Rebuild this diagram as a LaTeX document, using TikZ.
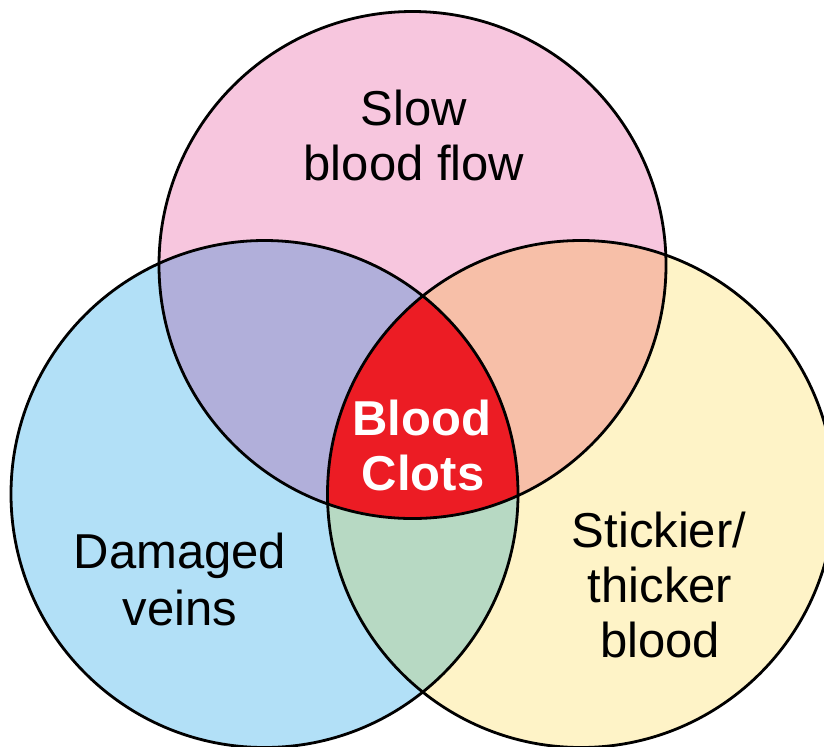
\documentclass[tikz,border=0pt]{standalone}
\usepackage{fontspec}
\setmainfont{Liberation Sans}
\definecolor{pinkC}{RGB}{247,198,222}
\definecolor{blueC}{RGB}{178,224,247}
\definecolor{yellowC}{RGB}{254,243,199}
\definecolor{purpleC}{RGB}{177,175,218}
\definecolor{salmonC}{RGB}{247,191,168}
\definecolor{greenC}{RGB}{183,217,195}
\definecolor{redC}{RGB}{236,28,36}
\begin{document}
\begin{tikzpicture}[x=0.5pt,y=-0.5pt,
  lbl/.style={anchor=base, inner sep=0pt, font=\fontsize{24.5pt}{27.5pt}\selectfont, text=black},
  hot/.style={anchor=base, inner sep=0pt, font=\fontsize{24.5pt}{27.5pt}\selectfont\bfseries, text=white},
  ring/.style={draw=black, line width=1.4pt}]
\clip (0,0) rectangle (824,746);
\def\vr{126.75pt}
\coordinate (cP) at (412.5,265);
\coordinate (cL) at (264.5,494);
\coordinate (cR) at (581,494);
% base fills
\fill[blueC] (cL) circle[radius=\vr];
\fill[yellowC] (cR) circle[radius=\vr];
\fill[pinkC] (cP) circle[radius=\vr];
% pairwise overlaps
\begin{scope}
  \clip (cP) circle[radius=\vr];
  \fill[purpleC] (cL) circle[radius=\vr];
  \fill[salmonC] (cR) circle[radius=\vr];
\end{scope}
\begin{scope}
  \clip (cL) circle[radius=\vr];
  \fill[greenC] (cR) circle[radius=\vr];
  \clip (cR) circle[radius=\vr];
  \fill[redC] (cP) circle[radius=\vr];
\end{scope}
% outlines
\draw[ring] (cP) circle[radius=\vr];
\draw[ring] (cL) circle[radius=\vr];
\draw[ring] (cR) circle[radius=\vr];
% labels
\node[lbl] (slowA) at (414,125) {Slow};
\node[lbl] (slowB) at (414,180) {blood flow};
\node[lbl] (damA) at (180,568) {Damaged};
\node[lbl] (damB) at (180,625) {veins};
\node[lbl] (stkA) at (659,547) {Stickier/};
\node[lbl] (stkB) at (660,602) {thicker};
\node[lbl] (stkC) at (660,657) {blood};
\node[hot] (clotA) at (422,435) {Blood};
\node[hot] (clotB) at (423,490) {Clots};
\end{tikzpicture}
\end{document}
